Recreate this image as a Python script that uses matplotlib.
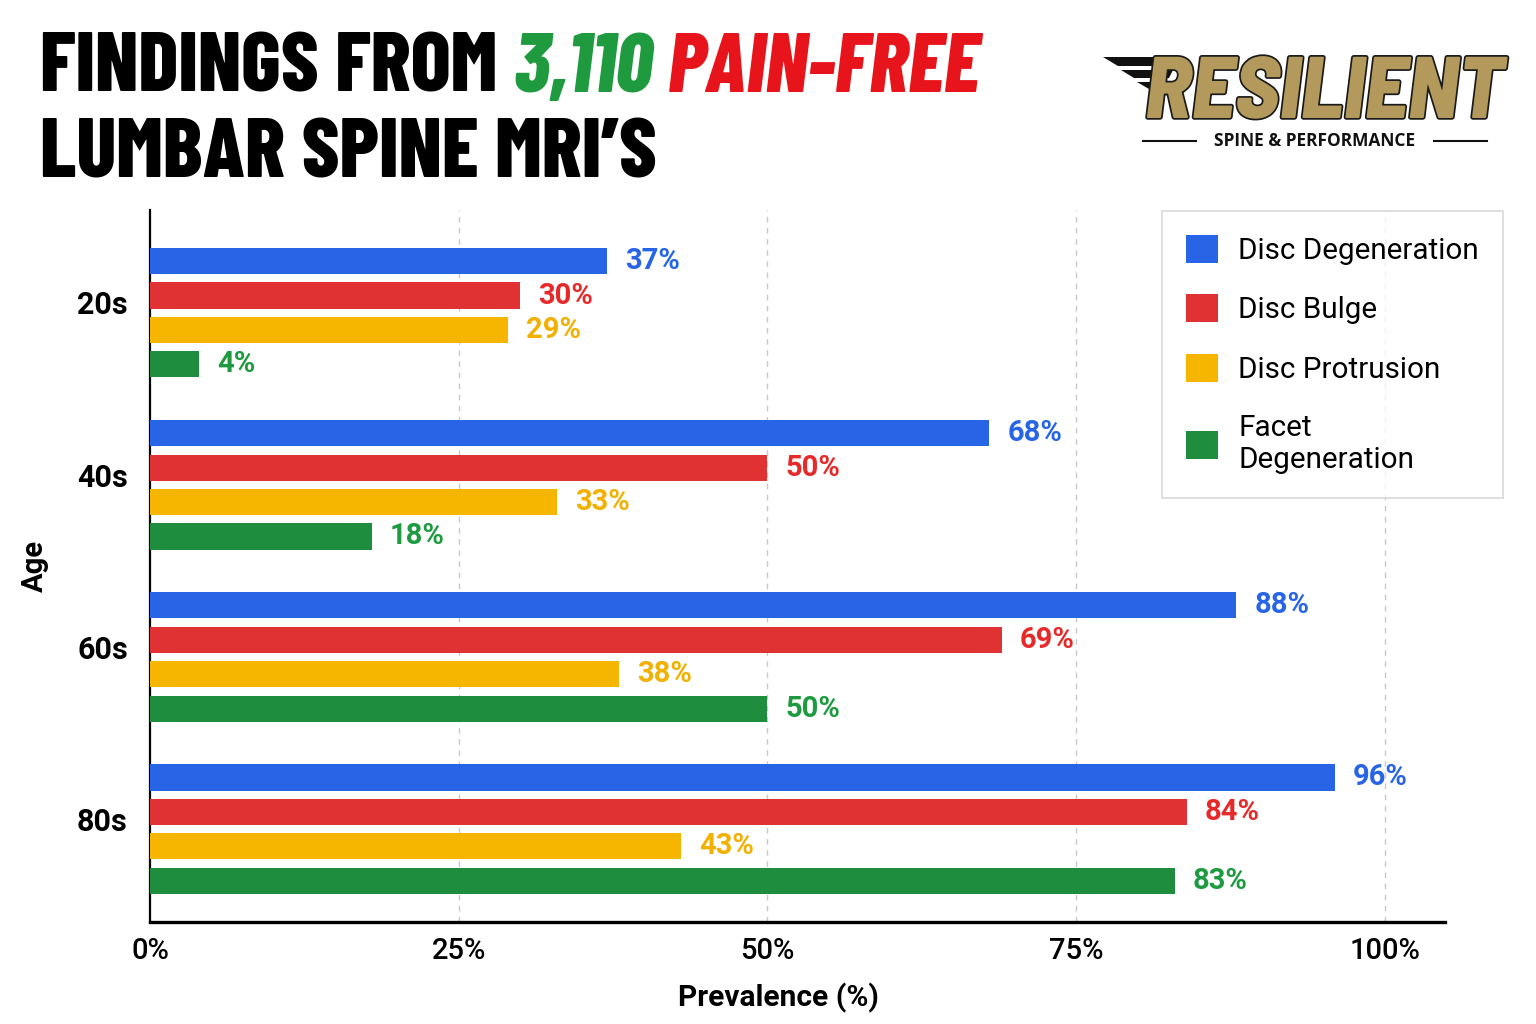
import matplotlib
matplotlib.use("Agg")
import matplotlib.pyplot as plt
import numpy as np
from matplotlib.patches import Patch, Polygon
from matplotlib.lines import Line2D
import matplotlib.patheffects as pe

# ---------------- data ----------------
age_groups = ["20s", "40s", "60s", "80s"]
series_names = ["Disc Degeneration", "Disc Bulge", "Disc Protrusion", "Facet\nDegeneration"]
disc_degeneration = [37, 68, 88, 96]
disc_bulge = [30, 50, 69, 84]
disc_protrusion = [29, 33, 38, 43]
facet_degeneration = [4, 18, 50, 83]
x_ticks = [0, 25, 50, 75, 100]
x_tick_labels = ["0%", "25%", "50%", "75%", "100%"]

colors = ["#2764e6", "#e03232", "#f6b600", "#1e8e3e"]
label_colors = ["#2764e6", "#e62a2a", "#f2b000", "#1e9a40"]

W, H = 1536, 1024
fig = plt.figure(figsize=(W / 100, H / 100), dpi=100)
fig.patch.set_facecolor("white")

def fx(x):
    return x / W

def fy(y):
    return 1 - y / H

# ---------------- axes ----------------
ax = fig.add_axes([fx(150), fy(922), fx(1445) - fx(150), fy(210) - fy(922)])
ax.set_xlim(0, 104.9)
ax.set_ylim(3.54, -0.597)

series = [disc_degeneration, disc_bulge, disc_protrusion, facet_degeneration]
group_pos = np.arange(len(age_groups))
bar_h = 0.152
step = 0.2
for k, vals in enumerate(series):
    ys = group_pos + (k - 1.5) * step
    ax.barh(ys, vals, height=bar_h, color=colors[k], zorder=3)
    for y, v in zip(ys, vals):
        ax.text(v + 1.45, y, f"{v}%", va="center", ha="left", fontsize=21,
                fontweight="bold", color=label_colors[k], family="Roboto", zorder=4)

ax.set_xticks(x_ticks)
ax.set_xticklabels(x_tick_labels, fontsize=21, family="Roboto", fontweight="medium")
ax.set_yticks(group_pos - 0.06)
ax.set_yticklabels(age_groups, fontsize=22, family="Roboto", fontweight="bold")
ax.tick_params(axis="x", length=0, pad=11)
ax.tick_params(axis="y", length=0, pad=16)

for t in x_ticks[1:]:
    ax.axvline(t, color="#c8c8c8", lw=1.0, ls=(0, (4, 4)), zorder=1)

for s in ["top", "right"]:
    ax.spines[s].set_visible(False)
ax.spines["left"].set_linewidth(1.6)
ax.spines["bottom"].set_linewidth(2.4)
ax.spines["left"].set_color("black")
ax.spines["bottom"].set_color("black")

ax.set_xlabel("Prevalence (%)", fontsize=21.5, fontweight="bold", family="Roboto", labelpad=13)
ax.xaxis.set_label_coords(0.485, -0.085)
ax.set_ylabel("Age", fontsize=21, fontweight="bold", family="Roboto", labelpad=0)
ax.yaxis.set_label_coords(-0.078, 0.5)

# ---------------- legend ----------------
handles = [Patch(facecolor=c, edgecolor="none") for c in colors]
leg = fig.legend(handles, series_names, loc="upper left",
                 bbox_to_anchor=(fx(1162), fy(211)), bbox_transform=fig.transFigure,
                 prop={"family": "Roboto", "size": 21.3}, frameon=True, fancybox=False,
                 edgecolor="#cfcfcf", handlelength=1.08, handleheight=1.08,
                 handletextpad=0.7, labelspacing=1.0, borderpad=0.8, borderaxespad=0)
leg.get_frame().set_linewidth(1.2)

# ---------------- title ----------------
fig.canvas.draw()
renderer = fig.canvas.get_renderer()
title_font = dict(family="Barlow Condensed", fontweight=800, fontsize=60)
parts = [("FINDINGS FROM ", "#000000", "normal"),
         ("3,110 ", "#1f9a3f", "italic"),
         ("PAIN-FREE", "#e8141b", "italic")]
x = 40
for txt, col, style in parts:
    t = fig.text(fx(x), fy(92), txt, color=col, style=style, va="baseline", ha="left", **title_font)
    bb = t.get_window_extent(renderer)
    x += bb.width
fig.text(fx(40), fy(177), "LUMBAR SPINE MRI\u2019S", color="black", va="baseline", ha="left", **title_font)

# ---------------- logo ----------------
gold = "#b39a5c"
fig.text(fx(1145), fy(118), "RESILIENT", family="Barlow Semi Condensed", fontweight=800, style="italic",
         fontsize=63, color=gold, va="baseline", ha="left",
         path_effects=[pe.withStroke(linewidth=2.5, foreground="#1a1a1a")])
# wing stripes
wings = [
    [(1103, 57), (1178, 57), (1174, 66), (1118, 66)],
    [(1121, 70), (1173, 70), (1169, 78), (1134, 78)],
    [(1137, 82), (1168, 82), (1164, 89), (1149, 89)],
]
for poly in wings:
    fig.add_artist(Polygon([(fx(a), fy(b)) for a, b in poly], closed=True,
                           facecolor="#111111", edgecolor="none", transform=fig.transFigure))
fig.text(fx(1315), fy(141), "SPINE & PERFORMANCE", family="Open Sans", fontweight="bold",
         fontsize=12.5, color="#111111", ha="center", va="center")
fig.add_artist(Line2D([fx(1143), fx(1196)], [fy(141), fy(141)], color="#111111", lw=1.5,
                      transform=fig.transFigure))
fig.add_artist(Line2D([fx(1434), fx(1487)], [fy(141), fy(141)], color="#111111", lw=1.5,
                      transform=fig.transFigure))

fig.savefig("out.png", dpi=100, facecolor="white")
